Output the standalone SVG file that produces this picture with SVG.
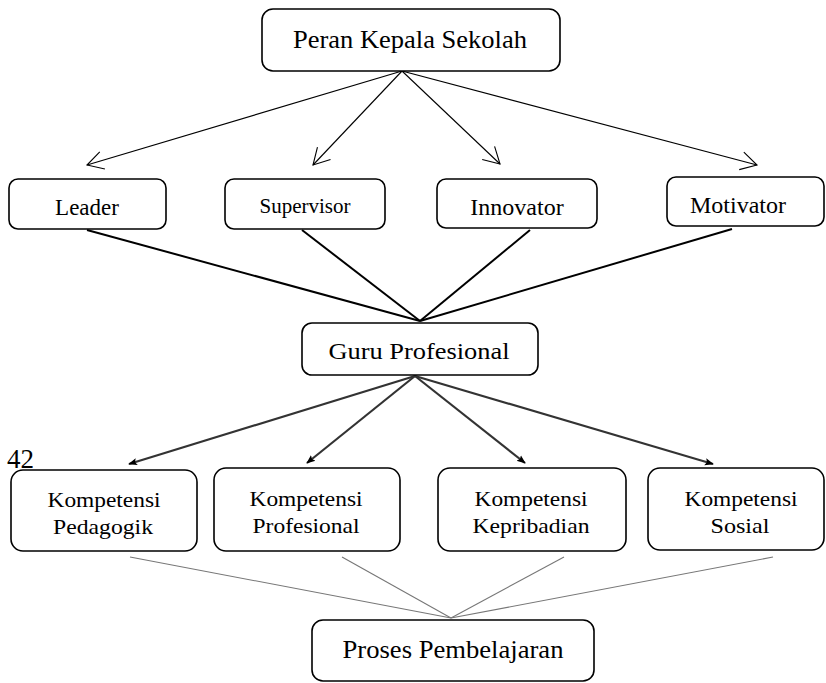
<svg xmlns="http://www.w3.org/2000/svg" width="826" height="683" viewBox="0 0 826 683" font-family="Liberation Serif, Times New Roman, serif">
<style>
.box{fill:#fff;stroke:#000;stroke-width:1.6}
text{font-family:'Liberation Serif','Times New Roman',serif;fill:#000}
.t{text-anchor:middle}
.open{stroke:#000;stroke-width:1.1;fill:none}
.thick{stroke:#000;stroke-width:2;fill:none}
.mid{stroke:#333;stroke-width:2.2;fill:none}
.thin{stroke:#777;stroke-width:1.1;fill:none}
</style>
<defs>
<marker id="vopen" viewBox="0 0 20 20" refX="18" refY="10" markerWidth="20" markerHeight="20" markerUnits="userSpaceOnUse" orient="auto">
<path d="M2,1 L18,10 L2,19" fill="none" stroke="#000" stroke-width="1.1"/>
</marker>
<marker id="fill" viewBox="0 0 10 10" refX="9" refY="5" markerWidth="9" markerHeight="9" markerUnits="userSpaceOnUse" orient="auto">
<path d="M0,1 L10,5 L0,9 L2,5 Z" fill="#000"/>
</marker>
</defs>
<g id="connectors">
<line class="open" x1="402" y1="71" x2="87" y2="165" marker-end="url(#vopen)"/>
<line class="open" x1="402" y1="71" x2="313" y2="165" marker-end="url(#vopen)"/>
<line class="open" x1="402" y1="71" x2="500" y2="164" marker-end="url(#vopen)"/>
<line class="open" x1="402" y1="71" x2="757" y2="165" marker-end="url(#vopen)"/>
<line class="thick" x1="87" y1="230" x2="420" y2="321"/>
<line class="thick" x1="302" y1="230" x2="420" y2="321"/>
<line class="thick" x1="530" y1="230" x2="420" y2="321"/>
<line class="thick" x1="732" y1="229" x2="420" y2="321"/>
<line class="mid" x1="415" y1="376" x2="129" y2="464" marker-end="url(#fill)"/>
<line class="mid" x1="415" y1="376" x2="307" y2="463" marker-end="url(#fill)"/>
<line class="mid" x1="415" y1="376" x2="525" y2="463" marker-end="url(#fill)"/>
<line class="mid" x1="415" y1="376" x2="713" y2="464" marker-end="url(#fill)"/>
<line class="thin" x1="130" y1="557" x2="451" y2="618"/>
<line class="thin" x1="342" y1="557" x2="451" y2="618"/>
<line class="thin" x1="564" y1="557" x2="451" y2="618"/>
<line class="thin" x1="773" y1="557" x2="451" y2="618"/>
</g>
<g id="peran">
<rect class="box" x="262" y="9" width="298" height="62" rx="11"/>
<text class="t" x="410" y="48" font-size="25" textLength="234" lengthAdjust="spacingAndGlyphs">Peran Kepala Sekolah</text>
</g>
<g id="leader">
<rect class="box" x="9" y="179" width="157" height="50" rx="9"/>
<text class="t" x="87" y="215" font-size="23">Leader</text>
</g>
<g id="supervisor">
<rect class="box" x="225" y="179" width="160" height="50" rx="9"/>
<text class="t" x="305" y="213" font-size="21">Supervisor</text>
</g>
<g id="innovator">
<rect class="box" x="437" y="179" width="160" height="49" rx="9"/>
<text class="t" x="517" y="215" font-size="24">Innovator</text>
</g>
<g id="motivator">
<rect class="box" x="667" y="177" width="157" height="49" rx="9"/>
<text class="t" x="738" y="213" font-size="24">Motivator</text>
</g>
<g id="guru">
<rect class="box" x="302" y="323" width="236" height="52" rx="10"/>
<text class="t" x="419" y="359" font-size="24" textLength="181" lengthAdjust="spacingAndGlyphs">Guru Profesional</text>
</g>
<text x="7" y="468" font-size="27">42</text>
<g id="pedagogik">
<rect class="box" x="11" y="470" width="186" height="81" rx="12"/>
<text class="t" x="104" y="507" font-size="21.5" textLength="113" lengthAdjust="spacingAndGlyphs">Kompetensi</text>
<text class="t" x="103" y="534" font-size="21.5" textLength="100" lengthAdjust="spacingAndGlyphs">Pedagogik</text>
</g>
<g id="profesional">
<rect class="box" x="214" y="468" width="186" height="83" rx="12"/>
<text class="t" x="306" y="506" font-size="21.5" textLength="113" lengthAdjust="spacingAndGlyphs">Kompetensi</text>
<text class="t" x="306" y="533" font-size="21.5" textLength="107" lengthAdjust="spacingAndGlyphs">Profesional</text>
</g>
<g id="kepribadian">
<rect class="box" x="438" y="468" width="188" height="83" rx="12"/>
<text class="t" x="531" y="506" font-size="21.5" textLength="113" lengthAdjust="spacingAndGlyphs">Kompetensi</text>
<text class="t" x="531" y="533" font-size="21.5" textLength="117" lengthAdjust="spacingAndGlyphs">Kepribadian</text>
</g>
<g id="sosial">
<rect class="box" x="648" y="468" width="176" height="82" rx="12"/>
<text class="t" x="741" y="506" font-size="21.5" textLength="113" lengthAdjust="spacingAndGlyphs">Kompetensi</text>
<text class="t" x="740" y="533" font-size="21.5" textLength="59" lengthAdjust="spacingAndGlyphs">Sosial</text>
</g>
<g id="proses">
<rect class="box" x="312" y="620" width="282" height="61" rx="11"/>
<text class="t" x="453" y="658" font-size="25" textLength="221" lengthAdjust="spacingAndGlyphs">Proses Pembelajaran</text>
</g>
</svg>
